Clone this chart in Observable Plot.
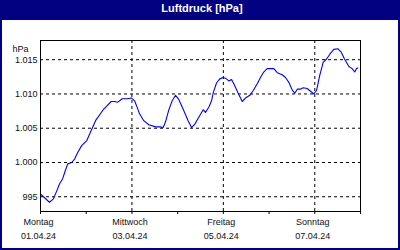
<!DOCTYPE html>
<html>
<head>
<meta charset="utf-8">
<script src="https://cdn.jsdelivr.net/npm/d3@7"></script>
<script src="https://cdn.jsdelivr.net/npm/@observablehq/plot@0.6"></script>
<style>
  html, body { margin: 0; padding: 0; background: #fff; }
  #box { position: relative; width: 400px; height: 250px; box-sizing: border-box;
         border-left: 2px solid #000080; border-right: 2px solid #000080; border-bottom: 2px solid #000080;
         background: #fff; overflow: hidden; }
  #title { height: 18px; padding-top: 2px; line-height: 18px; background: #000080; color: #fff; text-align: center;
           font: bold 11px "Liberation Sans", Arial, sans-serif; padding-left: 4px; }
  #chart svg { display: block; }
</style>
</head>
<body>
<div id="box">
  <div id="title">Luftdruck [hPa]</div>
  <div id="chart"></div>
</div>
<script>
// Hours since 01.04.24 00:00
const hours = [0, 4.7, 6.8, 8.6, 10, 11.6, 13, 14.3, 16.4, 17.9, 19.6, 21.7, 24.3, 28.9, 33.2, 35, 37.1, 38.9, 40.6, 42.9,
  45.5, 47.8, 49.4, 50.8, 52, 54.2, 56.9, 60.4, 62.6, 64.4, 65.6, 67.4, 69.1, 70.9, 72.6, 75.2, 77.5, 79.3, 81, 83.1,
  85.4, 86.6, 88.4, 89.8, 90.7, 92.4, 94.1, 95.9, 97.1, 98.9, 100.3, 101.5, 103.6, 105.9, 107.6, 109.9, 111.7, 113.8, 115.5, 117.2,
  119, 120.8, 122.5, 124.3, 126.9, 128.6, 130.4, 132.1, 133.5, 134.8, 136.5, 137.9, 140, 141.8, 143.5, 144.9, 146.6, 148.4, 150.2, 151.9,
  154, 156.1, 157.9, 159.6, 161.9, 163.6, 165, 165.9, 166.6];
// Air pressure in hPa
const pressure = [995.4, 994.2, 994.7, 995.9, 996.9, 997.6, 998.8, 999.8, 1000.0, 1000.5, 1001.5, 1002.5, 1003.2, 1006.1, 1007.8, 1008.3, 1008.9, 1008.9, 1008.8, 1009.3,
  1009.3, 1009.4, 1009.0, 1008.0, 1007.1, 1006.1, 1005.5, 1005.2, 1005.2, 1005.1, 1005.9, 1007.7, 1009.0, 1009.8, 1009.2, 1007.6, 1006.1, 1005.1, 1005.6, 1006.6,
  1007.7, 1007.3, 1008.1, 1009.0, 1010.2, 1011.6, 1012.2, 1012.4, 1012.3, 1011.9, 1012.1, 1011.5, 1010.2, 1008.9, 1009.4, 1009.8, 1010.5, 1011.5, 1012.4, 1013.2,
  1013.7, 1013.7, 1013.7, 1013.1, 1012.8, 1012.4, 1011.7, 1010.6, 1010.1, 1010.7, 1010.7, 1010.9, 1010.8, 1010.4, 1010.0, 1010.5, 1012.7, 1014.6, 1015.1, 1015.8,
  1016.5, 1016.6, 1016.1, 1015.1, 1014.0, 1013.7, 1013.2, 1013.7, 1013.8];

const startDate = "2024-04-01";
const endDate = "2024-04-08";
const tickDays = ["2024-04-01","2024-04-02","2024-04-03","2024-04-04","2024-04-05","2024-04-06","2024-04-07","2024-04-08"];
const labelDays = ["2024-04-01","2024-04-03","2024-04-05","2024-04-07"];
const dayNames = ["Montag","Mittwoch","Freitag","Sonntag"];
const dateLabels = ["01.04.24","03.04.24","05.04.24","07.04.24"];
const gridDays = ["2024-04-03","2024-04-05","2024-04-07"];
const yTicks = [995, 1000, 1005, 1010, 1015];
const yDomain = [992.85, 1017.8];
const unitLabel = "hPa";

const t0 = new Date(startDate + "T00:00:00Z").getTime();
const data = hours.map((h, i) => ({time: new Date(t0 + h * 3600e3), value: pressure[i]}));
const toDate = s => new Date(s + "T00:00:00Z");
const labels = labelDays.map((d, i) => ({date: toDate(d), name: dayNames[i], dateText: dateLabels[i]}));

const de = d3.formatLocale({decimal: ",", thousands: ".", grouping: [3], currency: ["", " €"]});
const fmt = de.format(",d");

const font = '"Liberation Sans", Arial, sans-serif';

const chart = Plot.plot({
  width: 396,
  height: 228,
  marginLeft: 38,
  marginRight: 38,
  marginTop: 20,
  marginBottom: 37,
  style: {fontFamily: font, fontSize: "9px", background: "#fff", color: "#111"},
  x: {type: "utc", domain: [toDate(startDate), toDate(endDate)]},
  y: {domain: yDomain},
  marks: [
    Plot.gridY(yTicks, {stroke: "#000", strokeOpacity: 1, strokeDasharray: "3,3"}),
    Plot.gridX(gridDays.map(toDate), {stroke: "#000", strokeOpacity: 1, strokeDasharray: "3,3"}),
    Plot.line(data, {x: "time", y: "value", stroke: "#0000ff", strokeWidth: 1.1}),
    Plot.frame({stroke: "#000"}),
    Plot.axisY(yTicks, {tickSize: 0, tickPadding: 3, tickFormat: fmt, label: null, fill: "#111"}),
    Plot.axisX(tickDays.map(toDate), {tickSize: 3, tickFormat: () => "", label: null, stroke: "#000"}),
    Plot.text(labels, {x: "date", text: "name", frameAnchor: "bottom", dy: 13.4, dx: -2, fill: "#111"}),
    Plot.text(labels, {x: "date", text: "dateText", frameAnchor: "bottom", dy: 27.8, dx: -2, fill: "#111"}),
    Plot.text([unitLabel], {frameAnchor: "top-left", dx: -28, dy: 5, textAnchor: "start", fill: "#111"})
  ]
});
document.getElementById("chart").appendChild(chart);
</script>
</body>
</html>
